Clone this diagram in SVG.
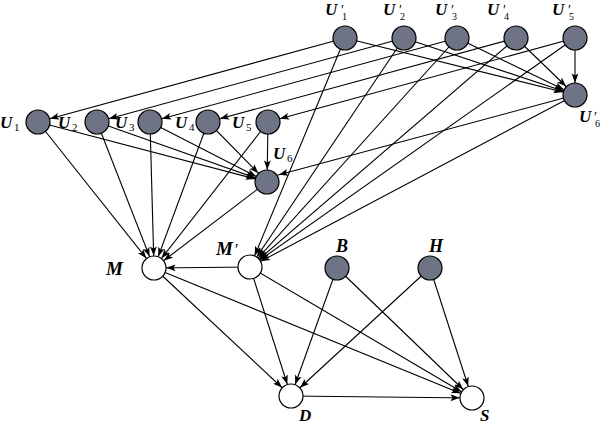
<svg xmlns="http://www.w3.org/2000/svg" width="600" height="425" viewBox="0 0 600 425">
<style>
.n{stroke:#000;stroke-width:1.2}
.g{fill:#6f7386}
.w{fill:#fff}
.e{stroke:#000;stroke-width:1.1;fill:none;marker-end:url(#ah)}
.l{font-family:"Liberation Serif",serif;font-weight:bold;font-style:italic;fill:#000}
.s{font-family:"Liberation Serif",serif;font-style:normal;font-weight:normal;fill:#000}
</style>
<defs>
<marker id="ah" markerUnits="userSpaceOnUse" orient="auto" refX="0" refY="0" markerWidth="30" markerHeight="30" viewBox="-30 -15 30 30" overflow="visible">
<path d="M-21.5,-3.4 L-12.3,0 L-21.5,3.4 L-19.5,0 Z" fill="#000"/>
</marker>
</defs>
<rect width="600" height="425" fill="#fff"/>
<g id="connectors">
<line class="e" x1="345" y1="38" x2="38" y2="122"/>
<line class="e" x1="404" y1="38" x2="97" y2="122"/>
<line class="e" x1="457" y1="38" x2="150" y2="122"/>
<line class="e" x1="516" y1="38" x2="208" y2="122"/>
<line class="e" x1="575" y1="38" x2="268" y2="122"/>
<line class="e" x1="345" y1="38" x2="575" y2="95"/>
<line class="e" x1="404" y1="38" x2="575" y2="95"/>
<line class="e" x1="457" y1="38" x2="575" y2="95"/>
<line class="e" x1="516" y1="38" x2="575" y2="95"/>
<line class="e" x1="575" y1="38" x2="575" y2="95"/>
<line class="e" x1="575" y1="95" x2="267" y2="178"/>
<line class="e" x1="345" y1="38" x2="250" y2="267"/>
<line class="e" x1="404" y1="38" x2="250" y2="267"/>
<line class="e" x1="457" y1="38" x2="250" y2="267"/>
<line class="e" x1="516" y1="38" x2="250" y2="267"/>
<line class="e" x1="575" y1="38" x2="250" y2="267"/>
<line class="e" x1="575" y1="95" x2="250" y2="267"/>
<line class="e" x1="38" y1="122" x2="267" y2="182"/>
<line class="e" x1="97" y1="122" x2="267" y2="182"/>
<line class="e" x1="150" y1="122" x2="267" y2="182"/>
<line class="e" x1="208" y1="122" x2="267" y2="182"/>
<line class="e" x1="268" y1="122" x2="267" y2="182"/>
<line class="e" x1="38" y1="122" x2="154" y2="268"/>
<line class="e" x1="97" y1="122" x2="154" y2="268"/>
<line class="e" x1="150" y1="122" x2="154" y2="268"/>
<line class="e" x1="208" y1="122" x2="154" y2="268"/>
<line class="e" x1="268" y1="122" x2="154" y2="268"/>
<line class="e" x1="267" y1="182" x2="154" y2="268"/>
<line class="e" x1="250" y1="267" x2="154" y2="268"/>
<line class="e" x1="154" y1="268" x2="291" y2="396"/>
<line class="e" x1="154" y1="268" x2="472" y2="398"/>
<line class="e" x1="250" y1="267" x2="291" y2="396"/>
<line class="e" x1="250" y1="267" x2="472" y2="398"/>
<line class="e" x1="337" y1="268" x2="291" y2="396"/>
<line class="e" x1="337" y1="268" x2="472" y2="398"/>
<line class="e" x1="430" y1="268" x2="291" y2="396"/>
<line class="e" x1="430" y1="268" x2="472" y2="398"/>
<line class="e" x1="291" y1="396" x2="472" y2="398"/>
</g>
<g id="Up1"><circle class="n g" cx="345" cy="38" r="12"/><text class="l" x="325" y="15" font-size="17">U<tspan class="s" x="341" y="15" font-size="14">′</tspan><tspan class="s" x="342" y="20" font-size="10">1</tspan></text></g>
<g id="Up2"><circle class="n g" cx="404" cy="38" r="12"/><text class="l" x="383" y="15" font-size="17">U<tspan class="s" x="399" y="15" font-size="14">′</tspan><tspan class="s" x="400" y="20" font-size="10">2</tspan></text></g>
<g id="Up3"><circle class="n g" cx="457" cy="38" r="12"/><text class="l" x="435" y="15" font-size="17">U<tspan class="s" x="451" y="15" font-size="14">′</tspan><tspan class="s" x="452" y="20" font-size="10">3</tspan></text></g>
<g id="Up4"><circle class="n g" cx="516" cy="38" r="12"/><text class="l" x="487" y="15" font-size="17">U<tspan class="s" x="503" y="15" font-size="14">′</tspan><tspan class="s" x="504" y="20" font-size="10">4</tspan></text></g>
<g id="Up5"><circle class="n g" cx="575" cy="38" r="12"/><text class="l" x="552" y="15" font-size="17">U<tspan class="s" x="568" y="15" font-size="14">′</tspan><tspan class="s" x="569" y="20" font-size="10">5</tspan></text></g>
<g id="Up6"><circle class="n g" cx="575" cy="95" r="12"/><text class="l" x="579" y="122" font-size="17">U<tspan class="s" x="594" y="122" font-size="14">′</tspan><tspan class="s" x="595" y="127" font-size="10">6</tspan></text></g>
<g id="U1"><circle class="n g" cx="38" cy="122" r="12"/><text class="l" x="0" y="128" font-size="17">U<tspan class="s" x="14" y="131" font-size="11">1</tspan></text></g>
<g id="U2"><circle class="n g" cx="97" cy="122" r="12"/><text class="l" x="58" y="128" font-size="17">U<tspan class="s" x="72" y="131" font-size="11">2</tspan></text></g>
<g id="U3"><circle class="n g" cx="150" cy="122" r="12"/><text class="l" x="115" y="128" font-size="17">U<tspan class="s" x="129" y="131" font-size="11">3</tspan></text></g>
<g id="U4"><circle class="n g" cx="208" cy="122" r="12"/><text class="l" x="175" y="128" font-size="17">U<tspan class="s" x="189" y="131" font-size="11">4</tspan></text></g>
<g id="U5"><circle class="n g" cx="268" cy="122" r="12"/><text class="l" x="232" y="128" font-size="17">U<tspan class="s" x="246" y="131" font-size="11">5</tspan></text></g>
<g id="U6"><circle class="n g" cx="267" cy="182" r="12"/><text class="l" x="273" y="159" font-size="17">U<tspan class="s" x="287" y="162" font-size="11">6</tspan></text></g>
<g id="M"><circle class="n w" cx="154" cy="268" r="12"/><text class="l" x="106" y="275" font-size="19">M</text></g>
<g id="Mp"><circle class="n w" cx="250" cy="267" r="12"/><text class="l" x="216" y="255" font-size="19">M<tspan class="s" x="235" y="255" font-size="16">′</tspan></text></g>
<g id="B"><circle class="n g" cx="337" cy="268" r="12"/><text class="l" x="336" y="252" font-size="18">B</text></g>
<g id="H"><circle class="n g" cx="430" cy="268" r="12"/><text class="l" x="429" y="252" font-size="18">H</text></g>
<g id="D"><circle class="n w" cx="291" cy="396" r="12"/><text class="l" x="299" y="421" font-size="17">D</text></g>
<g id="S"><circle class="n w" cx="472" cy="398" r="12"/><text class="l" x="480" y="421" font-size="17">S</text></g>
</svg>
